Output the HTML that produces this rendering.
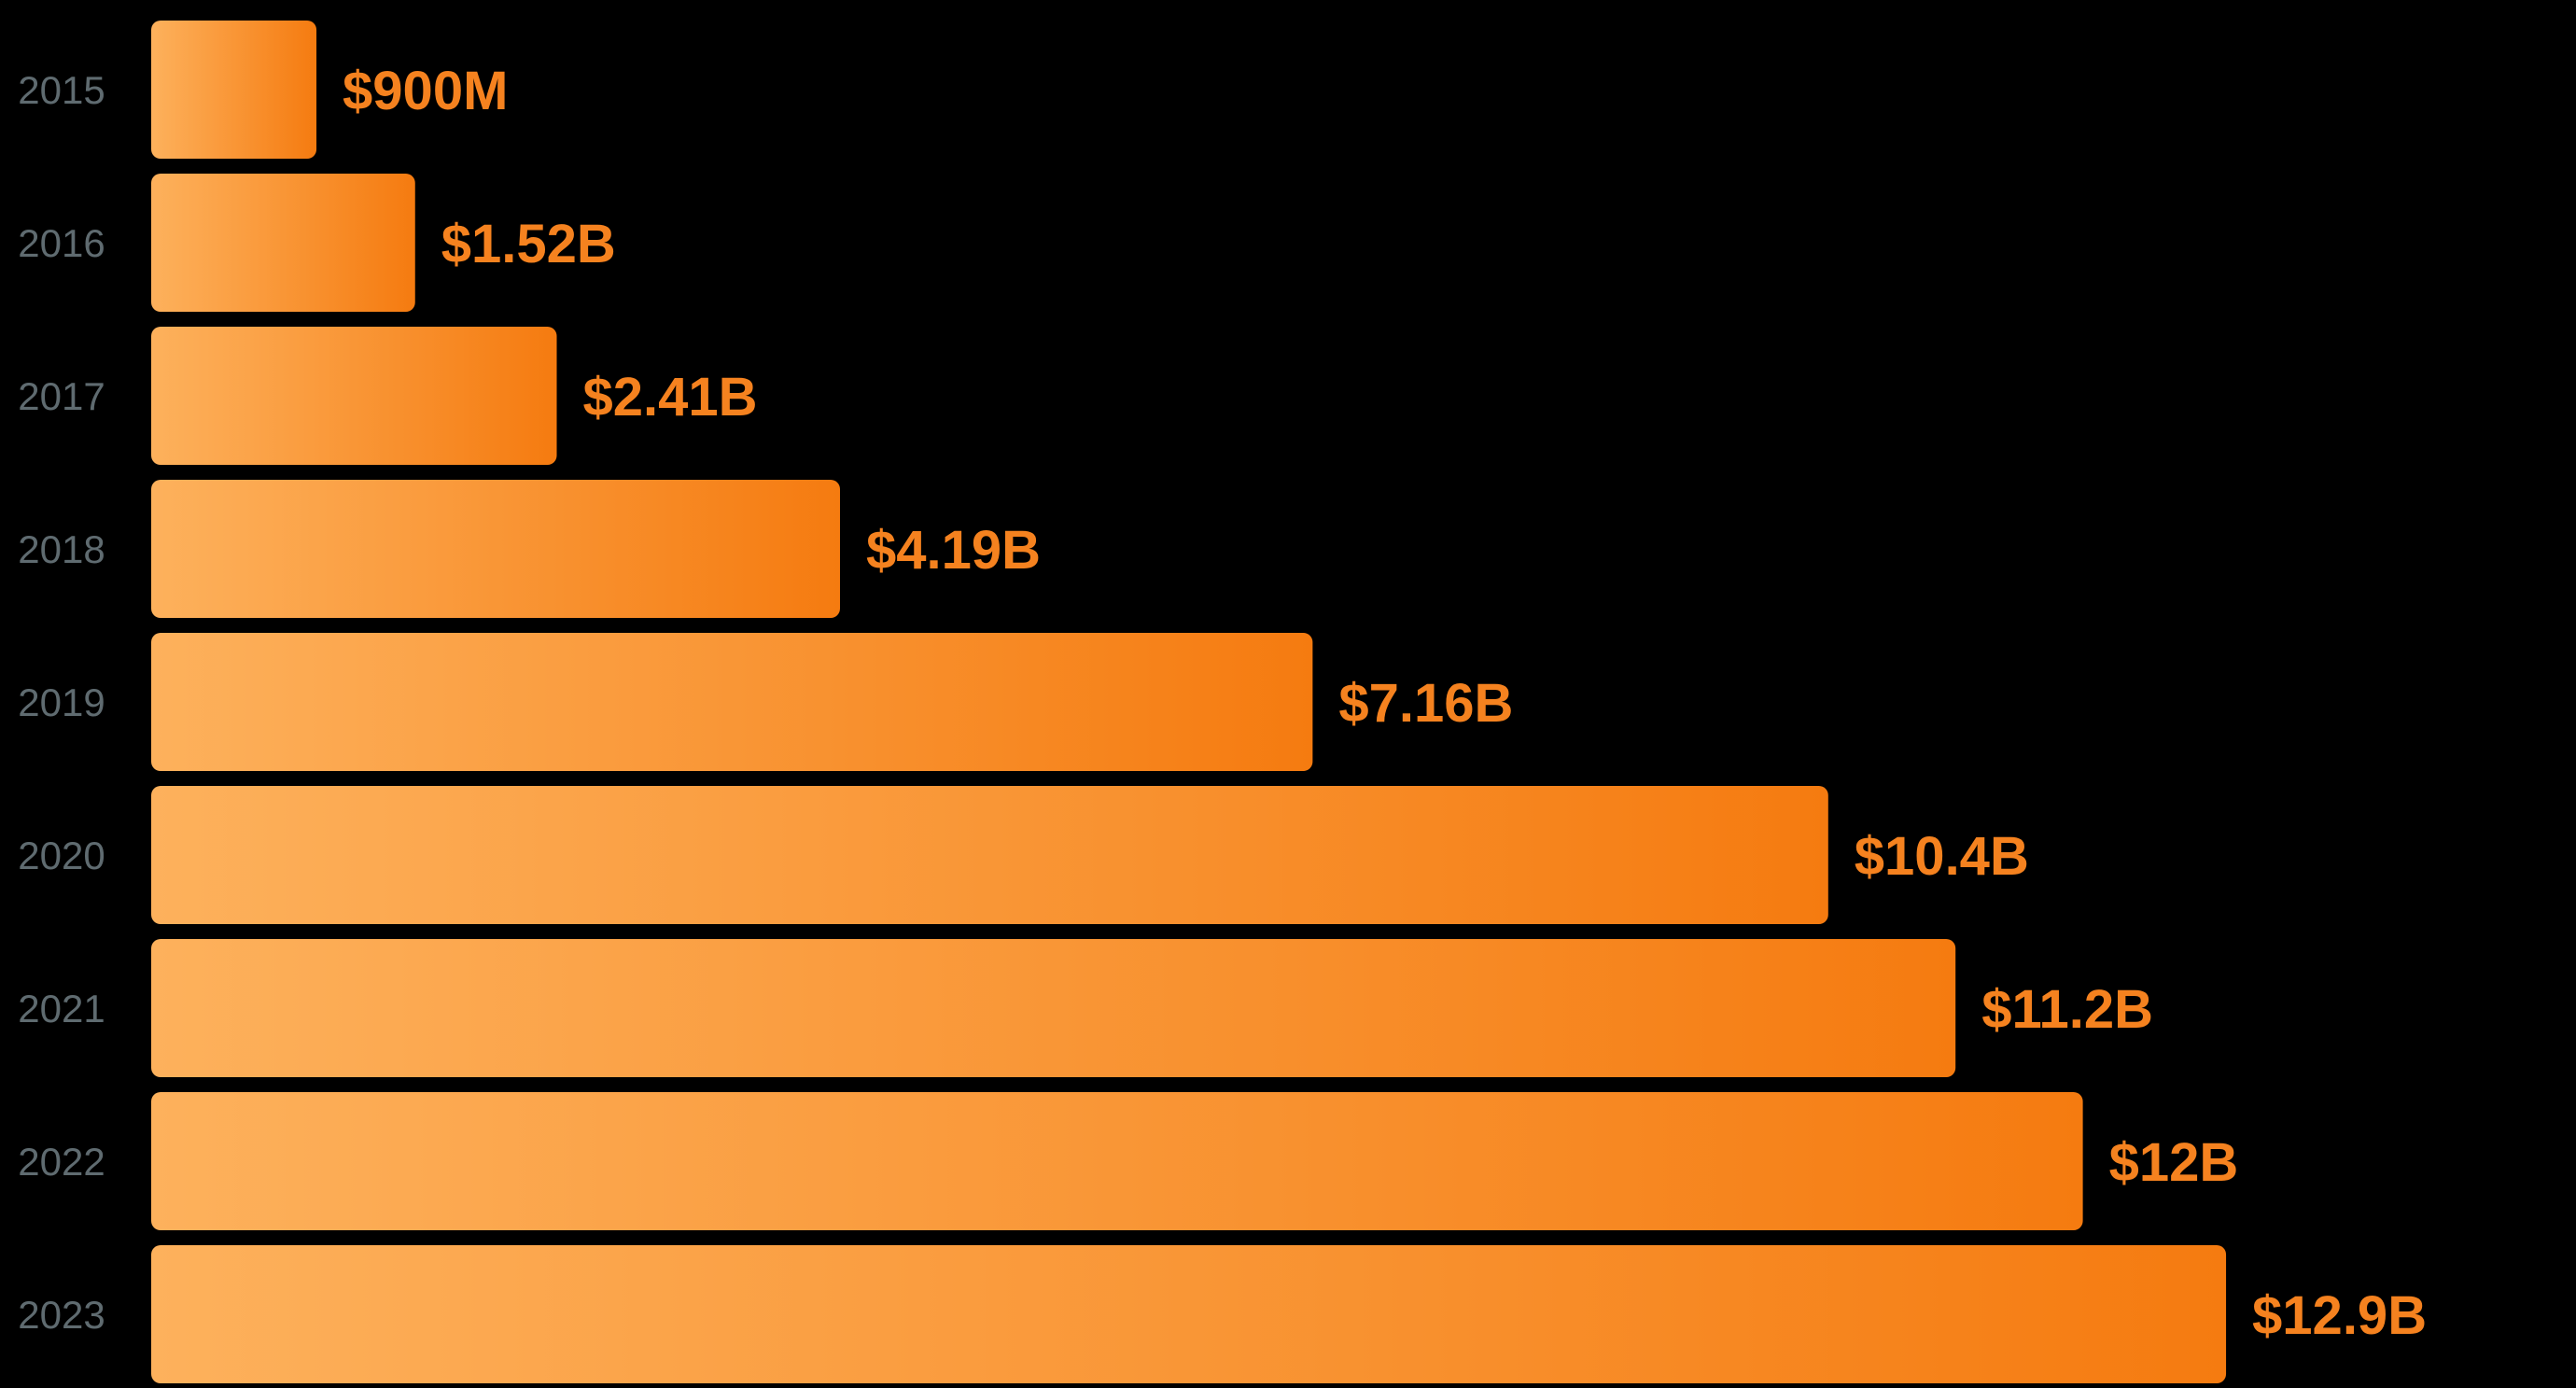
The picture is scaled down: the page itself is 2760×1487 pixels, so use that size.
<!DOCTYPE html>
<html><head><meta charset="utf-8"><style>
html,body{margin:0;padding:0;background:#000;}
svg{display:block;}
</style></head><body>
<svg id="chart" width="2760" height="1487" viewBox="0 0 2760 1487" xmlns="http://www.w3.org/2000/svg">
<defs>
<linearGradient id="barGrad" x1="0" y1="0" x2="1" y2="0">
<stop offset="0" stop-color="#fdb15c"/>
<stop offset="1" stop-color="#f57b10"/>
</linearGradient>
</defs>
<rect width="2760" height="1487" fill="#000"/>
<g id="bars"></g>
</svg>
<script>
const years = ['2015','2016','2017','2018','2019','2020','2021','2022','2023'];
const values = [0.9, 1.52, 2.41, 4.19, 7.16, 10.4, 11.2, 12, 12.9];
const valueLabels = ['$900M','$1.52B','$2.41B','$4.19B','$7.16B','$10.4B','$11.2B','$12B','$12.9B'];

const x0 = 162, scale = 170.5, base = 23.6;
const top0 = 22, pitch = 164, barH = 148;
function xLen(v){ return base + v*scale; }
function yPos(i){ return top0 + i*pitch; }

const g = document.getElementById('bars');
const NS = 'http://www.w3.org/2000/svg';
years.forEach((yr,i)=>{
  const y = yPos(i), w = xLen(values[i]);
  const r = document.createElementNS(NS,'rect');
  r.setAttribute('x', x0); r.setAttribute('y', y);
  r.setAttribute('width', w); r.setAttribute('height', barH);
  r.setAttribute('rx', 10); r.setAttribute('fill', 'url(#barGrad)');
  
  
  g.appendChild(r);
  const t = document.createElementNS(NS,'text');
  t.setAttribute('x', 66); t.setAttribute('y', y + barH/2 + 15);
  t.setAttribute('text-anchor', 'middle');
  t.setAttribute('font-family', 'Liberation Sans, sans-serif');
  t.setAttribute('font-size', '42'); t.setAttribute('fill', '#5f6b70');
  t.textContent = yr;
  
  
  g.appendChild(t);
  const v = document.createElementNS(NS,'text');
  v.setAttribute('x', x0 + w + 28); v.setAttribute('y', y + barH/2 + 21);
  v.setAttribute('font-family', 'Liberation Sans, sans-serif');
  v.setAttribute('font-weight', 'bold');
  v.setAttribute('font-size', '58'); v.setAttribute('fill', '#f5821f');
  v.textContent = valueLabels[i];
  
  
  g.appendChild(v);
});
</script>
</body></html>
